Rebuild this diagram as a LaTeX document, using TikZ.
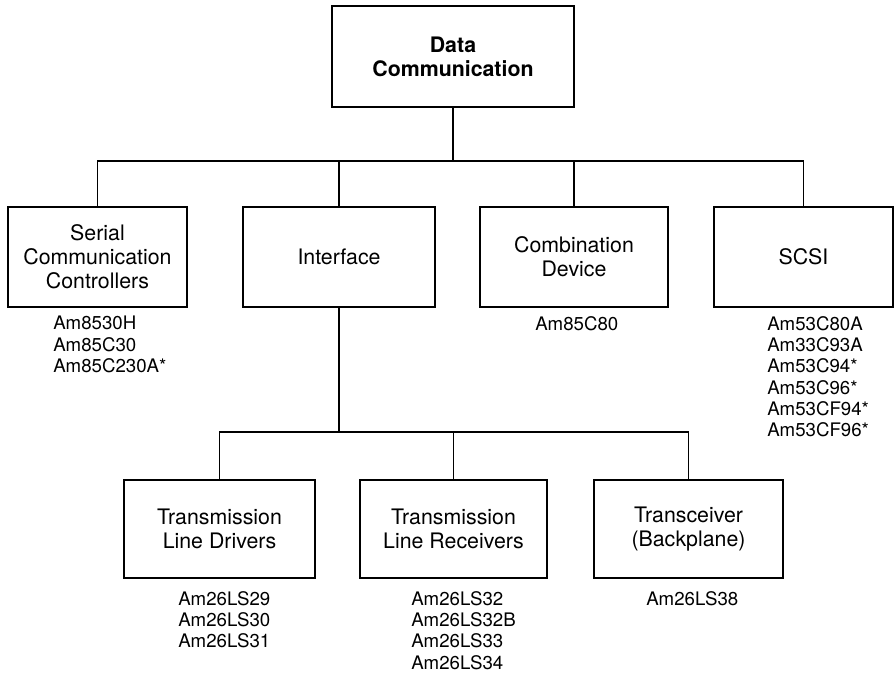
\documentclass[tikz,border=0pt]{standalone}
\usepackage{fontspec}
\setmainfont{TeX Gyre Heros}
\tikzset{box/.style={draw,line width=1.6pt,align=center,inner sep=0pt,
   minimum height=75pt,font=\fontsize{16}{18}\selectfont},
 parts/.style={align=left,anchor=north west,inner sep=0pt,
   font=\fontsize{14}{16}\selectfont},
 link/.style={draw,line width=1pt},
 }

\begin{document}
\begin{tikzpicture}[x=0.75pt,y=-0.75pt]
    \useasboundingbox (0,0) rectangle (895,673);
    \node[box,minimum width=181pt,minimum height=76pt,font=\fontsize{16}{18}\selectfont\bfseries]
        (data) at (453,56.5) {Data\\Communication};
    \node[box,minimum width=134pt] (serial) at (97.5,257) {Serial\\Communication\\Controllers};
    \node[box,minimum width=144pt] (iface) at (339,257) {Interface};
    \node[box,minimum width=141pt] (combo) at (574,257) {Combination\\Device};
    \node[box,minimum width=134pt] (scsi) at (803.5,257) {SCSI};
    \node[box,minimum width=143pt,minimum height=73.5pt] (drivers) at (219.5,529) {Transmission\\Line Drivers};
    \node[box,minimum width=140pt,minimum height=73.5pt] (receivers) at (453.5,529) {Transmission\\Line Receivers};
    \node[box,minimum width=142pt,minimum height=73.5pt] (xcvr) at (688.5,529) {Transceiver\\(Backplane)};
    % part numbers
    \node[parts] (serialparts) at (53,316) {Am8530H\\Am85C30\\Am85C230A*};
    \node[parts] (comboparts) at (535,316) {Am85C80};
    \node[parts] (scsiparts) at (767,316) {Am53C80A\\Am33C93A\\Am53C94*\\Am53C96*\\Am53CF94*\\Am53CF96*};
    \node[parts] (driverparts) at (178,591) {Am26LS29\\Am26LS30\\Am26LS31};
    \node[parts] (receiverparts) at (411,591) {Am26LS32\\Am26LS32B\\Am26LS33\\Am26LS34};
    \node[parts] (xcvrparts) at (646,591) {Am26LS38};
    % connectors
    \coordinate (topbus) at (0,161);
    \coordinate (lowbus) at (0,432);
    \path[link] (data.south) -- (data.south |- topbus);
    \path[link] (serial.north) |- (scsi.north |- topbus) -- (scsi.north);
    \path[link] (iface.north) -- (iface.north |- topbus);
    \path[link] (combo.north) -- (combo.north |- topbus);
    \path[link] (iface.south) -- (iface.south |- lowbus);
    \path[link] (drivers.north) |- (xcvr.north |- lowbus) -- (xcvr.north);
    \path[link] (receivers.north) -- (receivers.north |- lowbus);
\end{tikzpicture}
\end{document}
